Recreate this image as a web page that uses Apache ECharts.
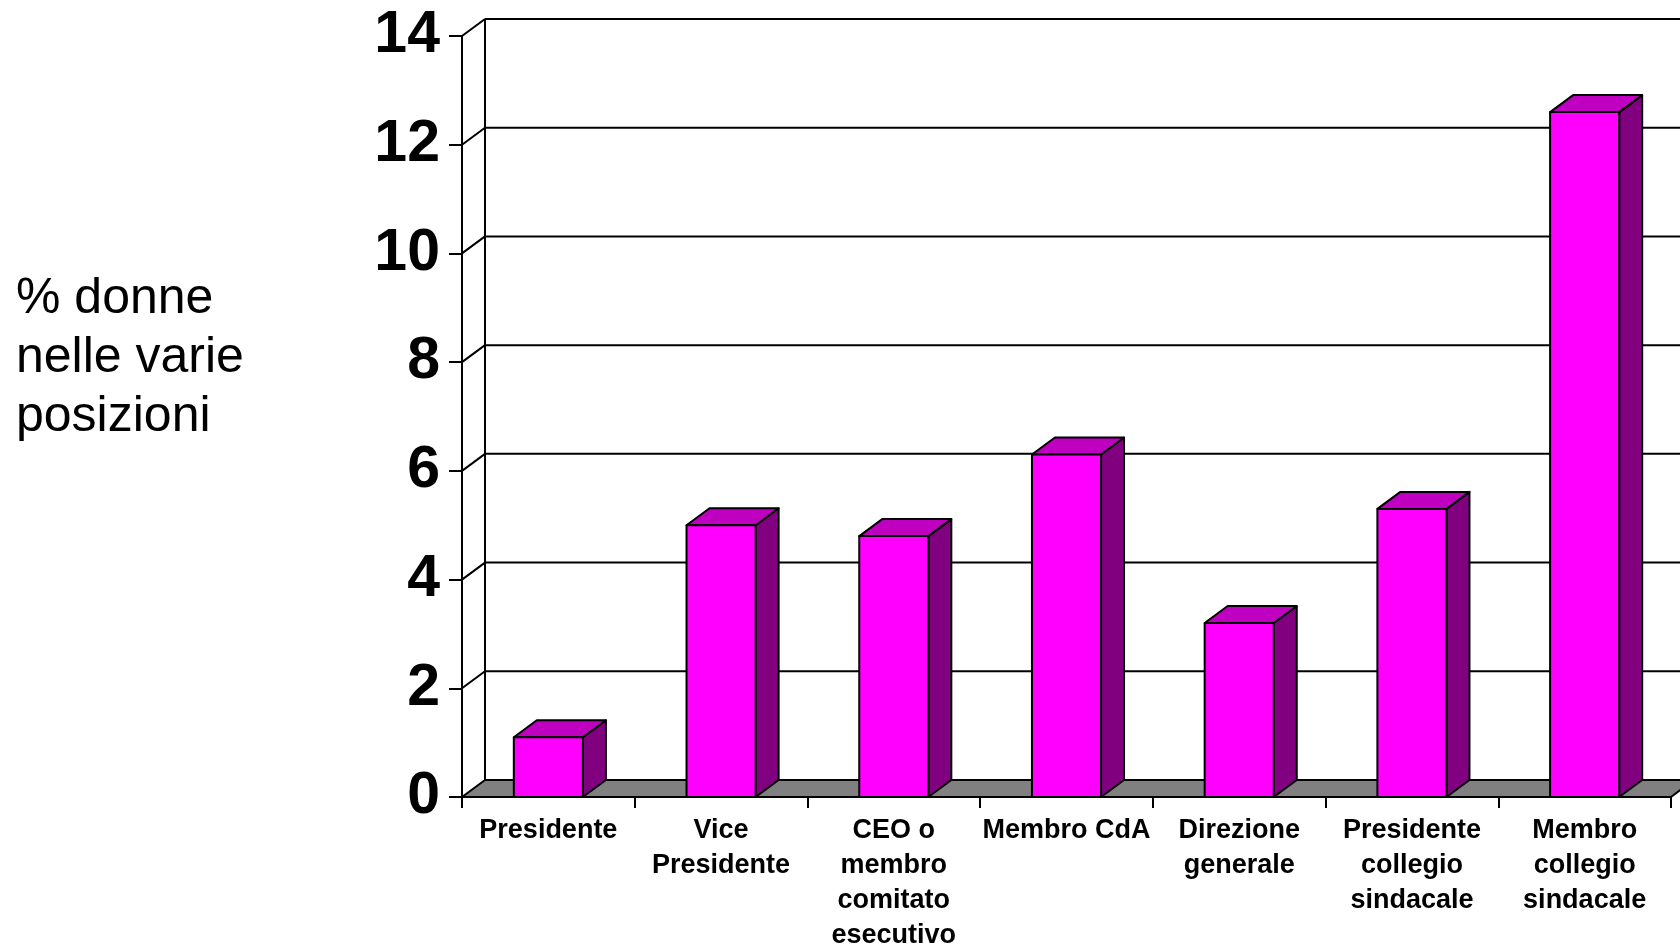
<!DOCTYPE html>
<html>
<head>
<meta charset="utf-8">
<script src="https://cdn.jsdelivr.net/npm/echarts@6/dist/echarts.min.js"></script>
<style>
  html, body { margin: 0; padding: 0; background: #fff; }
  #chart { width: 1680px; height: 951px; }
</style>
</head>
<body>
<div id="chart"></div>
<script>
// Positions held by women, percentage per role
const categories = [
  'Presidente',
  'Vice\nPresidente',
  'CEO o\nmembro\ncomitato\nesecutivo',
  'Membro CdA',
  'Direzione\ngenerale',
  'Presidente\ncollegio\nsindacale',
  'Membro\ncollegio\nsindacale'
];
const womenShare = [1.1, 5.0, 4.8, 6.3, 3.2, 5.3, 12.6];
const yTicks = [0, 2, 4, 6, 8, 10, 12, 14];
const axisTitle = '% donne\nnelle varie\nposizioni';

// 3D depth offset (pixels) of the back plane relative to the front plane
const DX = 23;
const DY = -17;
const BAR_RATIO = 0.4;
const FONT = '"Liberation Sans", Arial, sans-serif';

const chart = echarts.init(document.getElementById('chart'), null, { renderer: 'canvas' });

// Floor, back-wall gridlines and side-wall edges, one item per value tick
function renderWalls(params, api) {
  const cs = params.coordSys;
  const v = api.value(1);
  const y = api.coord([0, v])[1];
  const x0 = cs.x;
  const x1 = cs.x + cs.width;
  const line = { stroke: '#000', lineWidth: 2 };
  const children = [];
  if (v === yTicks[0]) {
    children.push({
      type: 'polygon',
      shape: { points: [[x0, y], [x1, y], [x1 + DX, y + DY], [x0 + DX, y + DY]] },
      style: { fill: '#808080', stroke: '#000', lineWidth: 2, lineJoin: 'round' }
    });
  } else {
    children.push({
      type: 'line',
      shape: { x1: x0, y1: y, x2: x0 + DX, y2: y + DY },
      style: line
    });
    children.push({
      type: 'line',
      shape: { x1: x0 + DX, y1: y + DY, x2: x1 + DX, y2: y + DY },
      style: line
    });
  }
  if (v === yTicks[yTicks.length - 1]) {
    const yb = api.coord([0, yTicks[0]])[1];
    children.push({
      type: 'line',
      shape: { x1: x0 + DX, y1: y + DY, x2: x0 + DX, y2: yb + DY },
      style: line
    });
  }
  return { type: 'group', children: children };
}

// Extruded bar: side face, top face, front face
function renderBar(params, api) {
  const i = api.value(0);
  const v = api.value(1);
  const base = api.coord([i, 0]);
  const top = api.coord([i, v]);
  const w = api.size([1, 0])[0] * BAR_RATIO;
  const xl = base[0] - w / 2;
  const xr = base[0] + w / 2;
  const yb = base[1];
  const yt = top[1];
  const edge = { stroke: '#000', lineWidth: 2, lineJoin: 'round' };
  return {
    type: 'group',
    children: [
      {
        type: 'polygon',
        shape: { points: [[xr, yt], [xr + DX, yt + DY], [xr + DX, yb + DY], [xr, yb]] },
        style: Object.assign({ fill: '#800080' }, edge)
      },
      {
        type: 'polygon',
        shape: { points: [[xl, yt], [xr, yt], [xr + DX, yt + DY], [xl + DX, yt + DY]] },
        style: Object.assign({ fill: '#C000C0' }, edge)
      },
      {
        type: 'rect',
        shape: { x: xl, y: yt, width: w, height: yb - yt },
        style: Object.assign({ fill: '#FF00FF' }, edge)
      }
    ]
  };
}

const option = {
  backgroundColor: '#fff',
  animation: false,
  title: {
    text: axisTitle,
    left: 16,
    top: 270,
    padding: 0,
    textStyle: {
      fontFamily: FONT,
      fontSize: 50,
      fontWeight: 'normal',
      lineHeight: 59,
      color: '#000'
    }
  },
  grid: {
    left: 462, right: 9, top: 36, bottom: 154,
    containLabel: false,
    outerBoundsMode: 'none'
  },
  xAxis: {
    type: 'category',
    data: categories,
    boundaryGap: true,
    axisLine: { show: true, lineStyle: { color: '#000', width: 2 } },
    axisTick: { show: true, length: 11, alignWithLabel: false, interval: 0, lineStyle: { color: '#000', width: 2 } },
    axisLabel: {
      interval: 0,
      margin: 16,
      color: '#000',
      fontFamily: FONT,
      fontWeight: 'bold',
      fontSize: 27,
      lineHeight: 35,
      align: 'center'
    },
    splitLine: { show: false }
  },
  yAxis: {
    type: 'value',
    min: 0,
    max: 14,
    interval: 2,
    axisLine: { show: true, lineStyle: { color: '#000', width: 2 } },
    axisTick: { show: true, length: 13, lineStyle: { color: '#000', width: 2 } },
    axisLabel: {
      margin: 22,
      color: '#000',
      fontFamily: FONT,
      fontWeight: 'bold',
      fontSize: 59
    },
    splitLine: { show: false }
  },
  series: [
    {
      type: 'custom',
      name: 'walls',
      z: 1,
      silent: true,
      renderItem: renderWalls,
      data: yTicks.map(function (v) { return [0, v]; })
    },
    {
      type: 'custom',
      name: '% donne',
      z: 3,
      renderItem: renderBar,
      data: womenShare.map(function (v, i) { return [i, v]; })
    }
  ]
};

chart.setOption(option);
</script>
</body>
</html>
